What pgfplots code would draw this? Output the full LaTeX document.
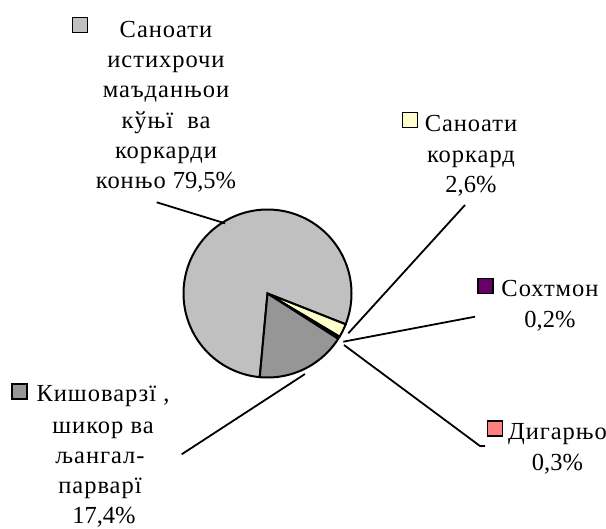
\documentclass[border=0pt]{standalone}
\usepackage{fontspec}
\setmainfont{Liberation Serif}[LetterSpace=4]
\newfontfamily\plain{Liberation Serif}
\usepackage{pgfplots}
\pgfplotsset{compat=1.18}

\definecolor{pieA}{HTML}{C0C0C0}
\definecolor{pieB}{HTML}{FFFFCC}
\definecolor{pieC}{HTML}{660066}
\definecolor{pieD}{HTML}{FF8080}
\definecolor{pieE}{HTML}{969696}

% shares, %
\def\vA{79.5}\def\vB{2.6}\def\vC{0.2}\def\vD{0.3}\def\vE{17.4}
% pie centre and radius (px, y from top)
\def\cx{267.5}\def\cy{293.5}\def\rr{84}
% slice boundaries, degrees, going clockwise
\pgfmathsetmacro\aA{264.7}
\pgfmathsetmacro\aB{\aA-3.6*\vA}
\pgfmathsetmacro\aC{\aB-3.6*\vB}
\pgfmathsetmacro\aD{\aC-3.6*\vC}
\pgfmathsetmacro\aE{\aD-3.6*\vD}
\pgfmathsetmacro\aF{\aE-3.6*\vE}

\newcommand{\lab}{\fontsize{24.5bp}{30bp}\selectfont}
\newcommand{\txt}[3]{\node[anchor=base,inner sep=0pt,font=\lab] at (axis cs:#1,#2) {#3};}
\newcommand{\n}[1]{{\plain #1}}

\begin{document}
\begin{tikzpicture}
\useasboundingbox (0,0) rectangle (606bp,529bp);
\begin{axis}[
    width=606bp, height=529bp, scale only axis,
    xmin=0, xmax=606, ymin=0, ymax=529, y dir=reverse,
    hide axis, clip=false,
    key/.style={only marks, mark=square*, mark size=7.5bp,
        mark options={fill=#1, draw=black, line width=1.6bp}},
]
% slices
\addplot[fill=pieA, draw=black, line width=2bp, domain=\aB:\aA, samples=120]
    ({\cx+\rr*cos(x)},{\cy-\rr*sin(x)}) -- (axis cs:\cx,\cy) -- cycle;
\addplot[fill=pieB, draw=black, line width=2bp, domain=\aC:\aB, samples=8]
    ({\cx+\rr*cos(x)},{\cy-\rr*sin(x)}) -- (axis cs:\cx,\cy) -- cycle;
\addplot[fill=pieC, draw=black, line width=1.4bp, domain=\aD:\aC, samples=3]
    ({\cx+\rr*cos(x)},{\cy-\rr*sin(x)}) -- (axis cs:\cx,\cy) -- cycle;
\addplot[fill=pieD, draw=black, line width=1.2bp, domain=\aE:\aD, samples=3]
    ({\cx+\rr*cos(x)},{\cy-\rr*sin(x)}) -- (axis cs:\cx,\cy) -- cycle;
\addplot[fill=pieE, draw=black, line width=2bp, domain=\aF:\aE, samples=40]
    ({\cx+\rr*cos(x)},{\cy-\rr*sin(x)}) -- (axis cs:\cx,\cy) -- cycle;

% leader lines
\addplot[black, line width=1.8bp] coordinates {(156.7,202.3) (225,223.3)};
\addplot[black, line width=1.8bp] coordinates {(465,205) (348.3,333.3)};
\addplot[black, line width=1.8bp] coordinates {(475,316.7) (343.3,341.7)};
\addplot[black, line width=1.8bp] coordinates {(344,345) (480,446) (485,446)};
\addplot[black, line width=1.8bp] coordinates {(305,374) (181.7,454.3)};

% legend keys
\addplot[key=pieA] coordinates {(80,25)};
\addplot[key=pieB] coordinates {(410,120)};
\addplot[key=pieC] coordinates {(485.5,286)};
\addplot[key=pieD] coordinates {(495,428.5)};
\addplot[key=pieE] coordinates {(19.7,391.5)};

% labels
\txt{166}{37.3}{Саноати}
\txt{166}{68}{истихрочи}
\txt{166}{98}{маъданњои}
\txt{166}{128}{кўњї\ \ ва}
\txt{166}{158}{коркарди}
\txt{166}{188.3}{конњо \n{79,5\%}}

\txt{471}{131.7}{Саноати}
\txt{471}{162}{коркард}
\txt{471}{192.5}{\n{2,6\%}}

\txt{550}{296.7}{Сохтмон}
\txt{550}{327}{\n{0,2\%}}

\txt{557.5}{439.5}{Дигарњо}
\txt{557.5}{470}{\n{0,3\%}}

\txt{103}{401.7}{Кишоварзї ,}
\txt{103}{433}{шикор ва}
\txt{100}{463}{љангал-}
\txt{100}{493}{парварї}
\txt{104}{523}{\n{17,4\%}}
\end{axis}
\end{tikzpicture}
\end{document}
